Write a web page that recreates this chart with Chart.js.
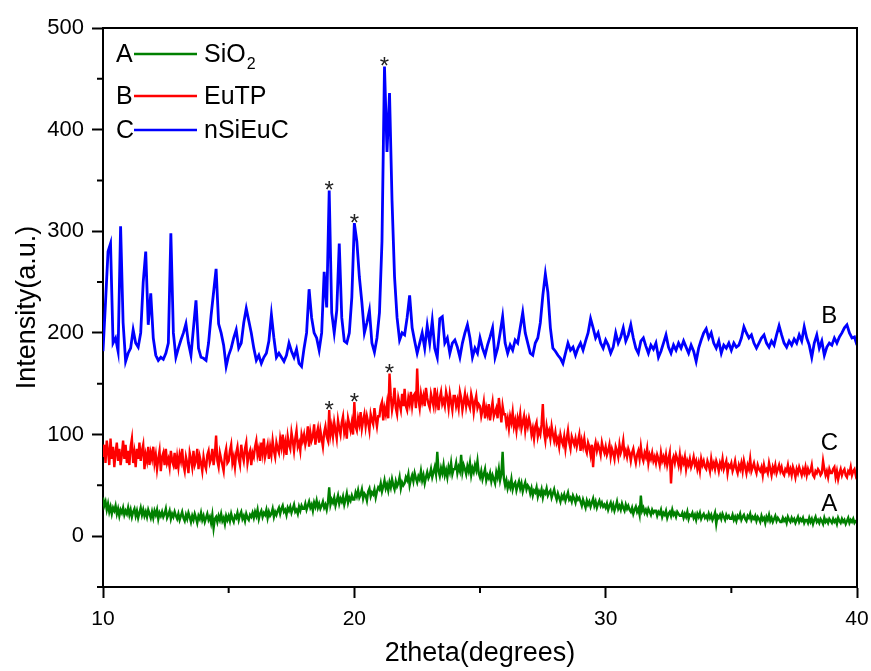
<!DOCTYPE html>
<html>
<head>
<meta charset="utf-8">
<title>XRD</title>
<script src="https://cdn.jsdelivr.net/npm/chart.js@4.4.1/dist/chart.umd.min.js"></script>
<style>
  body { margin: 0; background: #fff; }
  #wrap { width: 871px; height: 671px; }
</style>
</head>
<body>
<div id="wrap"><canvas id="xrd" width="871" height="671"></canvas></div>
<script>
"use strict";

/* --- DATA (2theta from 10 to 40) --- */

const thetaStart = 10;
const stepAB = 0.05;  // SiO2 and EuTP sampled every 0.05 deg
const stepC = 0.1;    // nSiEuC sampled every 0.1 deg

// A - SiO2 (one row per degree)
const sio2 = [
  38, 30, 34, 26, 32, 24, 29, 22, 28, 25, 30, 22, 27, 20, 26, 23, 28, 21, 25, 22,
  28, 21, 26, 19, 24, 27, 20, 25, 18, 23, 28, 21, 26, 20, 24, 19, 26, 22, 18, 24,
  18, 25, 21, 26, 17, 23, 20, 24, 19, 22, 27, 18, 21, 25, 17, 22, 19, 24, 20, 17,
  22, 16, 20, 24, 18, 15, 21, 17, 23, 19, 14, 20, 16, 22, 18, 13, 20, 17, 23, 16,
  20, 14, 18, 22, 16, 19, 13, 21, 8, 17, 19, 14, 20, 16, 22, 15, 18, 12, 20, 16,
  20, 15, 22, 17, 14, 20, 18, 23, 16, 21, 24, 17, 20, 15, 22, 18, 16, 21, 19, 23,
  18, 24, 20, 26, 17, 22, 25, 19, 23, 21, 26, 18, 24, 20, 22, 27, 19, 24, 21, 25,
  28, 22, 27, 30, 24, 26, 21, 28, 25, 29, 23, 27, 31, 24, 26, 22, 29, 25, 30, 27,
  27, 32, 26, 30, 34, 28, 31, 25, 33, 29, 35, 28, 32, 27, 30, 34, 28, 31, 26, 33,
  48, 31, 36, 33, 38, 30, 35, 40, 32, 37, 34, 39, 31, 36, 42, 33, 38, 35, 40, 36,
  36, 43, 39, 45, 38, 41, 46, 37, 42, 40, 35, 44, 47, 39, 43, 41, 46, 38, 44, 48,
  46, 52, 44, 49, 55, 47, 51, 45, 53, 48, 56, 50, 46, 54, 49, 52, 58, 47, 53, 50,
  52, 58, 55, 61, 50, 56, 60, 54, 62, 57, 53, 59, 56, 64, 55, 60, 52, 58, 63, 57,
  60, 66, 58, 63, 68, 61, 83, 64, 59, 67, 62, 70, 60, 65, 58, 68, 63, 72, 61, 66,
  66, 72, 62, 68, 64, 80, 63, 70, 66, 61, 69, 64, 72, 60, 67, 63, 70, 65, 74, 62,
  58, 64, 56, 61, 66, 55, 60, 57, 62, 54, 60, 56, 52, 63, 58, 66, 55, 61, 83, 57,
  50, 55, 47, 52, 48, 56, 46, 51, 53, 45, 50, 54, 47, 52, 44, 49, 53, 46, 50, 48,
  42, 47, 40, 45, 43, 48, 39, 44, 41, 46, 38, 44, 42, 47, 40, 43, 45, 38, 42, 46,
  40, 36, 42, 38, 34, 40, 37, 41, 35, 39, 43, 36, 38, 34, 40, 37, 33, 39, 36, 38,
  34, 30, 36, 32, 28, 35, 31, 34, 29, 33, 37, 30, 34, 28, 32, 35, 30, 33, 29, 31,
  28, 32, 26, 30, 33, 27, 31, 25, 29, 34, 27, 30, 26, 32, 28, 25, 31, 27, 30, 26,
  24, 28, 22, 26, 29, 24, 27, 21, 40, 25, 28, 23, 26, 22, 27, 24, 21, 26, 23, 25,
  25, 20, 24, 22, 26, 19, 23, 21, 25, 18, 22, 24, 20, 26, 21, 23, 19, 24, 22, 20,
  20, 23, 18, 22, 19, 24, 17, 21, 20, 23, 18, 21, 16, 22, 19, 23, 17, 20, 22, 18,
  20, 17, 22, 18, 21, 16, 19, 23, 12, 20, 18, 21, 17, 22, 19, 16, 21, 18, 20, 17,
  17, 21, 16, 19, 15, 20, 18, 22, 16, 19, 21, 17, 15, 20, 18, 22, 16, 19, 17, 20,
  15, 19, 17, 14, 20, 16, 18, 13, 19, 16, 21, 15, 18, 14, 17, 20, 15, 18, 16, 14,
  14, 18, 15, 17, 13, 19, 16, 14, 18, 15, 17, 13, 16, 19, 14, 17, 15, 18, 13, 16,
  16, 13, 18, 14, 17, 12, 16, 19, 14, 16, 13, 17, 15, 12, 18, 14, 16, 13, 17, 15,
  13, 17, 14, 16, 12, 18, 15, 13, 17, 14, 16, 12, 15, 18, 13, 16, 14, 17, 13, 15,
  15
];

// B - EuTP (one row per degree)
const eutp = [
  78, 90, 72, 94, 84, 70, 96, 76, 88, 68, 82, 92, 74, 86, 70, 80, 94, 76, 90, 72,
  84, 70, 88, 96, 72, 82, 68, 86, 76, 92, 74, 84, 90, 66, 80, 74, 88, 70, 82, 76,
  88, 72, 80, 66, 76, 84, 64, 78, 82, 70, 86, 72, 76, 68, 84, 74, 70, 82, 66, 78,
  68, 80, 74, 86, 70, 64, 78, 72, 62, 82, 76, 68, 84, 70, 74, 86, 66, 78, 72, 64,
  78, 70, 66, 80, 84, 72, 76, 86, 70, 80, 99, 74, 68, 82, 76, 70, 64, 80, 86, 72,
  74, 84, 90, 72, 78, 68, 82, 88, 76, 70, 90, 80, 74, 86, 92, 72, 80, 84, 70, 82,
  78, 88, 94, 80, 86, 74, 92, 82, 96, 78, 84, 90, 76, 88, 80, 94, 84, 78, 92, 86,
  82, 96, 88, 100, 84, 92, 80, 98, 90, 86, 102, 94, 84, 96, 104, 88, 92, 84, 100, 94,
  100, 90, 96, 108, 88, 102, 94, 98, 110, 90, 100, 106, 92, 104, 96, 88, 102, 108, 98, 94,
  124, 100, 108, 98, 112, 104, 96, 114, 106, 100, 112, 118, 102, 108, 96, 116, 110, 104, 112, 100,
  132, 108, 104, 116, 110, 122, 106, 114, 120, 108, 118, 112, 104, 120, 114, 110, 126, 116, 108, 118,
  118, 128, 132, 114, 126, 120, 130, 116, 160, 138, 124, 132, 146, 126, 120, 136, 130, 124, 140, 128,
  145, 128, 124, 136, 130, 142, 128, 138, 140, 126, 165, 134, 126, 140, 132, 138, 128, 146, 136, 130,
  126, 140, 134, 128, 146, 130, 138, 124, 136, 142, 130, 134, 128, 142, 136, 126, 140, 132, 124, 138,
  138, 128, 134, 126, 142, 136, 124, 132, 140, 128, 136, 130, 126, 140, 134, 122, 132, 138, 126, 130,
  128, 118, 124, 132, 116, 126, 120, 130, 114, 124, 132, 118, 122, 126, 116, 136, 124, 112, 128, 120,
  120, 110, 116, 106, 118, 112, 122, 108, 114, 104, 116, 110, 120, 106, 112, 118, 104, 114, 108, 116,
  110, 100, 106, 96, 108, 112, 98, 104, 100, 110, 130, 102, 94, 108, 100, 104, 96, 108, 100, 94,
  102, 92, 96, 88, 100, 94, 90, 98, 86, 96, 104, 92, 86, 98, 94, 90, 96, 88, 94, 100,
  84, 94, 88, 96, 86, 82, 92, 88, 80, 90, 68, 86, 92, 84, 90, 86, 80, 92, 86, 82,
  88, 80, 84, 90, 78, 86, 82, 76, 88, 84, 78, 90, 82, 86, 94, 80, 84, 78, 86, 82,
  74, 82, 86, 78, 72, 80, 84, 76, 88, 78, 74, 82, 78, 86, 72, 80, 76, 82, 74, 78,
  72, 80, 76, 70, 82, 74, 78, 72, 80, 70, 76, 82, 52, 74, 78, 72, 80, 76, 70, 80,
  68, 76, 72, 78, 66, 74, 70, 76, 68, 72, 78, 70, 74, 66, 72, 64, 76, 70, 74, 68,
  66, 74, 70, 64, 76, 68, 72, 66, 74, 70, 64, 72, 68, 76, 66, 70, 74, 62, 70, 68,
  72, 64, 68, 74, 66, 62, 70, 66, 72, 64, 74, 68, 62, 70, 66, 76, 64, 68, 72, 66,
  62, 70, 66, 64, 68, 60, 70, 64, 66, 62, 72, 66, 60, 68, 64, 70, 62, 66, 70, 64,
  68, 62, 60, 66, 64, 70, 62, 66, 60, 68, 64, 58, 66, 62, 68, 64, 60, 66, 62, 68,
  60, 66, 62, 64, 70, 60, 58, 64, 62, 66, 64, 60, 62, 74, 66, 60, 64, 58, 66, 62,
  62, 66, 68, 58, 64, 56, 62, 66, 60, 64, 66, 60, 58, 64, 62, 68, 60, 64, 66, 60,
  64
];

// C - nSiEuC (one row per degree)
const nsieuc = [
  182, 230, 280, 288, 190, 195, 182, 305, 210, 172,
  180, 185, 203, 190, 186, 200, 250, 280, 208, 239,
  195, 178, 173, 176, 174, 180, 190, 298, 200, 176,
  185, 193, 200, 209, 190, 178, 205, 232, 185, 176,
  175, 173, 190, 217, 240, 263, 209, 200, 188, 167,
  178, 185, 195, 203, 185, 190, 210, 224, 212, 200,
  185, 173, 178, 170, 176, 180, 192, 218, 195, 176,
  180, 176, 172, 178, 190, 182, 176, 184, 170, 167,
  185, 200, 243, 215, 200, 195, 183, 200, 260, 225,
  340, 220, 200, 222, 288, 215, 192, 190, 200, 235,
  308, 290, 255, 230, 200, 210, 222, 190, 181, 195,
  220, 290, 462, 378, 436, 330, 255, 215, 193, 200,
  198, 215, 237, 205, 192, 180, 190, 200, 185, 207,
  190, 212, 185, 176, 214, 216, 190, 195, 180, 190,
  193, 186, 176, 190, 200, 208, 195, 176, 185, 180,
  195, 185, 178, 188, 196, 205, 176, 185, 200, 216,
  190, 180, 188, 183, 193, 190, 205, 220, 200, 190,
  180, 178, 190, 195, 210, 237, 258, 240, 205, 185,
  182, 178, 175, 170, 180, 190, 183, 186, 178, 185,
  190, 183, 192, 200, 214, 205, 195, 200, 190, 185,
  193, 188, 180, 186, 200, 190, 196, 205, 192, 198,
  208, 195, 185, 180, 192, 195, 187, 180, 188, 184,
  190, 176, 182, 190, 198, 186, 180, 188, 183, 190,
  185, 192, 186, 180, 188, 182, 172, 185, 193, 200,
  204, 195, 200, 190, 185, 192, 180, 188, 185, 190,
  183, 190, 186, 188, 195, 206, 200, 195, 198, 190,
  185, 190, 195, 198, 190, 186, 192, 188, 198, 207,
  198, 190, 186, 192, 188, 194, 190, 198, 192, 206,
  195, 188, 176, 190, 198, 185, 192, 178, 186, 190,
  188, 195, 190, 196, 200, 205, 208, 200, 195, 196,
  188
];

const seriesNames = ['SiO2', 'EuTP', 'nSiEuC'];
const seriesLetters = ['A', 'B', 'C'];

const xTicks = [10, 20, 30, 40];
const xMinor = [15, 25, 35];
const yTicks = [0, 100, 200, 300, 400, 500];
const yMinor = [-50, 50, 150, 250, 350, 450];

// peaks marked with * : [dataset index, 2theta]
const starPeaks = [[2, 19.0], [2, 20.0], [2, 21.2], [1, 19.0], [1, 20.0], [1, 21.4]];

/* --- CHART --- */

const colors = ['#008000', '#ff0000', '#0000ff'];
const FONT = '"Liberation Sans", Arial, sans-serif';

function toPoints(arr, step) {
  return arr.map((v, i) => ({ x: +(thetaStart + i * step).toFixed(2), y: v }));
}

const frame_plugin = {
  id: 'frame',
  afterDraw(chart) {
    const c = chart.ctx;
    const a = chart.chartArea;
    const xs = chart.scales.x;
    const ys = chart.scales.y;
    c.save();
    c.strokeStyle = '#000';
    c.lineWidth = 2;

    // top and right frame
    c.beginPath();
    c.moveTo(a.left, a.top);
    c.lineTo(a.right, a.top);
    c.lineTo(a.right, a.bottom);
    c.stroke();

    // minor ticks
    c.beginPath();
    xMinor.forEach(v => {
      const px = xs.getPixelForValue(v);
      c.moveTo(px, a.bottom);
      c.lineTo(px, a.bottom + 6);
    });
    yMinor.forEach(v => {
      const py = ys.getPixelForValue(v);
      c.moveTo(a.left, py);
      c.lineTo(a.left - 6, py);
    });
    c.stroke();

    // legend
    const rows = [55, 97, 131];
    c.fillStyle = '#000';
    c.textBaseline = 'middle';
    rows.forEach((y, i) => {
      c.font = '25px ' + FONT;
      c.textAlign = 'left';
      c.fillText(seriesLetters[i], 116, y);
      c.strokeStyle = colors[i];
      c.lineWidth = 2.5;
      c.beginPath();
      c.moveTo(134, y - 1);
      c.lineTo(197, y - 1);
      c.stroke();
      if (i === 0) {
        c.fillText('SiO', 204, y);
        const w = c.measureText('SiO').width;
        c.font = '16px ' + FONT;
        c.fillText('2', 204 + w + 1, y + 10);
      } else {
        c.fillText(seriesNames[i], 204, y);
      }
    });

    // curve labels on the right
    c.font = '24px ' + FONT;
    c.textAlign = 'center';
    c.fillText('B', xs.getPixelForValue(38.9), ys.getPixelForValue(216));
    c.fillText('C', xs.getPixelForValue(38.9), ys.getPixelForValue(91));
    c.fillText('A', xs.getPixelForValue(38.9), ys.getPixelForValue(31));

    // stars on the peaks
    c.font = '24px ' + FONT;
    c.textBaseline = 'alphabetic';
    c.fillStyle = '#222';
    const m = c.measureText('*');
    const shift = (m.actualBoundingBoxAscent - m.actualBoundingBoxDescent) / 2;
    starPeaks.forEach(([ds, t]) => {
      const pt = chart.data.datasets[ds].data.find(p => Math.abs(p.x - t) < 1e-6);
      const px = xs.getPixelForValue(pt.x);
      const py = ys.getPixelForValue(pt.y) - 5;
      c.fillText('*', px, py + shift);
    });
    c.restore();
  }
};

const series = [sio2, eutp, nsieuc];
const steps = [stepAB, stepAB, stepC];

const xrd_chart = new Chart(document.getElementById('xrd'), {
  type: 'line',
  data: {
    datasets: seriesNames.map((name, i) => ({
      label: name,
      data: toPoints(series[i], steps[i]),
      borderColor: colors[i],
      borderWidth: i === 2 ? 2.8 : 2.4,
      pointRadius: 0,
      tension: 0,
      fill: false
    }))
  },
  options: {
    responsive: false,
    animation: false,
    layout: { padding: { top: 28, right: 14, left: 0, bottom: 0 } },
    plugins: {
      legend: { display: false },
      tooltip: { enabled: false }
    },
    scales: {
      x: {
        type: 'linear',
        min: 10,
        max: 40,
        afterFit: s => { s.height = 84; s.paddingLeft = 0; s.paddingRight = 0; },
        afterBuildTicks: s => { s.ticks = xTicks.map(v => ({ value: v })); },
        ticks: {
          color: '#000',
          padding: 9,
          maxRotation: 0,
          autoSkip: false,
          font: { family: FONT, size: 21 }
        },
        grid: { drawOnChartArea: false, tickLength: 11, tickWidth: 2, color: '#000' },
        border: { color: '#000', width: 2 },
        title: {
          display: true,
          text: '2theta(degrees)',
          color: '#000',
          font: { family: FONT, size: 27 },
          padding: { top: 0, bottom: 1 }
        }
      },
      y: {
        min: -50,
        max: 500,
        afterFit: s => { s.width = 103; s.paddingTop = 0; s.paddingBottom = 0; },
        afterBuildTicks: s => { s.ticks = yTicks.map(v => ({ value: v })); },
        ticks: {
          color: '#000',
          padding: 8,
          font: { family: FONT, size: 22 }
        },
        grid: { drawOnChartArea: false, tickLength: 11, tickWidth: 2, color: '#000' },
        border: { color: '#000', width: 2 },
        title: {
          display: true,
          text: 'Intensity(a.u.)',
          color: '#000',
          font: { family: FONT, size: 27 },
          padding: { top: 11, bottom: 0 }
        }
      }
    }
  },
  plugins: [frame_plugin]
});
</script>
</body>
</html>
